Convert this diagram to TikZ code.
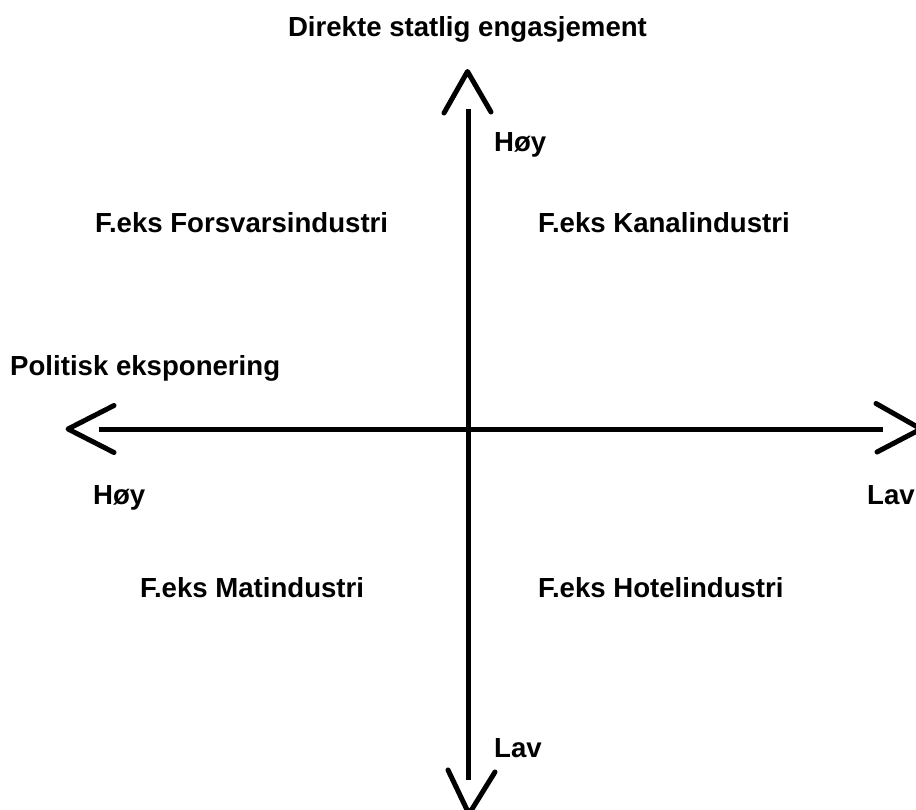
\documentclass[tikz,border=0pt]{standalone}
\usepackage{fontspec}
\setmainfont{Liberation Sans}
\begin{document}
\begin{tikzpicture}[x=1pt,y=-1pt,
  axis/.style={line width=5pt, line cap=butt},
  tip/.style={line width=5pt, line cap=round, line join=round},
  lbl/.style={anchor=base west, inner sep=0pt, font=\fontsize{27.6}{32}\selectfont\bfseries}
]
% page frame
\fill[white] (0,0) rectangle (916,810);
\useasboundingbox (0,0) rectangle (916,810);
\clip (0,0) rectangle (916,810);

% axis end points
\coordinate (vtop) at (468,109);
\coordinate (vbot) at (468,780);
\coordinate (hleft) at (99,429.5);
\coordinate (hright) at (883,429.5);

% arrowhead points
\coordinate (tA) at (444,113);
\coordinate (tP) at (467.5,71.5);
\coordinate (tB) at (491,112);
\coordinate (lA) at (114,405.5);
\coordinate (lP) at (68,429);
\coordinate (lB) at (114,452.5);
\coordinate (rA) at (876,403.5);
\coordinate (rP) at (921,429);
\coordinate (rB) at (877,452);
\coordinate (bA) at (448,770);
\coordinate (bP) at (469,814);
\coordinate (bB) at (495,772);

% axes
\draw[axis] (vtop) -- (vbot);
\draw[axis] (hleft) -- (hright);

% open arrowheads, set apart from the axis ends
\draw[tip] (tA) -- (tP) -- (tB);
\draw[tip] (lA) -- (lP) -- (lB);
\draw[tip] (rA) -- (rP) -- (rB);
\draw[tip] (bA) -- (bP) -- (bB);

% axis titles and scale ends
\node[lbl, anchor=base] (ytitle) at (467.5,37) {Direkte statlig engasjement};
\node[lbl] (yhigh) at (494,152) {Høy};
\node[lbl] (ylow) at (494,757) {Lav};
\node[lbl] (xtitle) at (10,376) {Politisk eksponering};
\node[lbl] (xhigh) at (93,504) {Høy};
\node[lbl] (xlow) at (867,504) {Lav};

% quadrant examples
\node[lbl] (q1) at (95,233) {F.eks Forsvarsindustri};
\node[lbl] (q2) at (538,233) {F.eks Kanalindustri};
\node[lbl] (q3) at (140,597) {F.eks Matindustri};
\node[lbl] (q4) at (538,597) {F.eks Hotelindustri};
\end{tikzpicture}
\end{document}
